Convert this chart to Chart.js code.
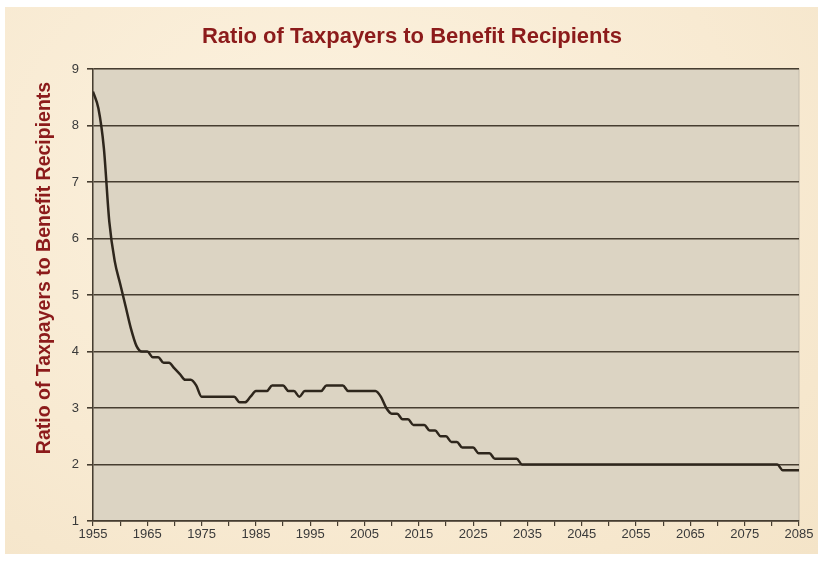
<!DOCTYPE html>
<html>
<head>
<meta charset="utf-8">
<title>Ratio of Taxpayers to Benefit Recipients</title>
<script src="https://cdn.jsdelivr.net/npm/chart.js@4.4.1/dist/chart.umd.min.js"></script>
<style>
    html, body { margin: 0; padding: 0; background: #ffffff; }
    .paper {
        position: absolute; left: 5px; top: 7px; width: 813px; height: 547px;
        background: radial-gradient(ellipse at 40% 30%, #fcf2df 0%, #f8ead2 60%, #f4e4c8 100%);
    }
    #myChart { position: absolute; left: 0; top: 0; }
</style>
</head>
<body>
<div class="paper"></div>
<canvas id="myChart" width="824" height="563"></canvas>
<script>
// yearly ratio, 1955 - 2085
const years = [
    1955, 1956, 1957, 1958, 1959, 1960, 1961, 1962, 1963, 1964,
    1965, 1966, 1967, 1968, 1969, 1970, 1971, 1972, 1973, 1974,
    1975, 1976, 1977, 1978, 1979, 1980, 1981, 1982, 1983, 1984,
    1985, 1986, 1987, 1988, 1989, 1990, 1991, 1992, 1993, 1994,
    1995, 1996, 1997, 1998, 1999, 2000, 2001, 2002, 2003, 2004,
    2005, 2006, 2007, 2008, 2009, 2010, 2011, 2012, 2013, 2014,
    2015, 2016, 2017, 2018, 2019, 2020, 2021, 2022, 2023, 2024,
    2025, 2026, 2027, 2028, 2029, 2030, 2031, 2032, 2033, 2034,
    2035, 2036, 2037, 2038, 2039, 2040, 2041, 2042, 2043, 2044,
    2045, 2046, 2047, 2048, 2049, 2050, 2051, 2052, 2053, 2054,
    2055, 2056, 2057, 2058, 2059, 2060, 2061, 2062, 2063, 2064,
    2065, 2066, 2067, 2068, 2069, 2070, 2071, 2072, 2073, 2074,
    2075, 2076, 2077, 2078, 2079, 2080, 2081, 2082, 2083, 2084,
    2085
]

const ratio = [
    8.6, 8.3, 7.6, 6.3, 5.6, 5.2, 4.8, 4.4, 4.1, 4.0,
    4.0, 3.9, 3.9, 3.8, 3.8, 3.7, 3.6, 3.5, 3.5, 3.4,
    3.2, 3.2, 3.2, 3.2, 3.2, 3.2, 3.2, 3.1, 3.1, 3.2,
    3.3, 3.3, 3.3, 3.4, 3.4, 3.4, 3.3, 3.3, 3.2, 3.3,
    3.3, 3.3, 3.3, 3.4, 3.4, 3.4, 3.4, 3.3, 3.3, 3.3,
    3.3, 3.3, 3.3, 3.2, 3.0, 2.9, 2.9, 2.8, 2.8, 2.7,
    2.7, 2.7, 2.6, 2.6, 2.5, 2.5, 2.4, 2.4, 2.3, 2.3,
    2.3, 2.2, 2.2, 2.2, 2.1, 2.1, 2.1, 2.1, 2.1, 2.0,
    2.0, 2.0, 2.0, 2.0, 2.0, 2.0, 2.0, 2.0, 2.0, 2.0,
    2.0, 2.0, 2.0, 2.0, 2.0, 2.0, 2.0, 2.0, 2.0, 2.0,
    2.0, 2.0, 2.0, 2.0, 2.0, 2.0, 2.0, 2.0, 2.0, 2.0,
    2.0, 2.0, 2.0, 2.0, 2.0, 2.0, 2.0, 2.0, 2.0, 2.0,
    2.0, 2.0, 2.0, 2.0, 2.0, 2.0, 2.0, 1.9, 1.9, 1.9,
    1.9
]

// labelled years on the bottom axis (minor ticks every 5 years)
const xTickLabels = [1955, 1965, 1975, 1985, 1995, 2005, 2015, 2025, 2035, 2045, 2055, 2065, 2075, 2085]
const yTicks = [1, 2, 3, 4, 5, 6, 7, 8, 9]

const titleText = 'Ratio of Taxpayers to Benefit Recipients'
const darkRed = '#8c1b1b'
const gridColor = '#463d30'
const fontFamily = "'Liberation Sans', Arial, sans-serif"

Chart.defaults.font.family = fontFamily

// grey-beige fill behind the plot
const plotBackground = {
    id: 'plotBackground',
    beforeDraw(chart) {
        const {ctx, chartArea} = chart
        ctx.save()
        ctx.fillStyle = '#dcd4c3'
        ctx.fillRect(chartArea.left, chartArea.top, chartArea.width, chartArea.height)
        ctx.strokeStyle = '#c4bcac'
        ctx.lineWidth = 1
        ctx.strokeRect(chartArea.left, chartArea.top, chartArea.width, chartArea.height)
        ctx.restore()
    }
}

// chart title and the rotated axis title, placed by hand
const titles = {
    id: 'titles',
    afterDraw(chart) {
        const ctx = chart.ctx
        ctx.save()
        ctx.fillStyle = darkRed
        ctx.textAlign = 'center'
        ctx.textBaseline = 'middle'
        ctx.font = 'bold 22px ' + fontFamily
        ctx.fillText(titleText, 412, 37)

        ctx.translate(45, 268)
        ctx.rotate(-Math.PI / 2)
        ctx.font = 'bold 19.5px ' + fontFamily
        ctx.fillText(titleText, 0, 0)
        ctx.restore()
    }
}

const ctx = document.getElementById('myChart').getContext('2d')
const myChart = new Chart(ctx, {
    type: 'line',
    data: {
        datasets: [{
            label: titleText,
            data: years.map((y, i) => ({x: y, y: ratio[i]})),
            borderColor: '#2e261c',
            borderWidth: 2.5,
            pointRadius: 0,
            cubicInterpolationMode: 'monotone',
            fill: false
        }]
    },
    options: {
        responsive: false,
        animation: false,
        layout: {
            padding: {left: 0, right: 25, top: 69, bottom: 0}
        },
        plugins: {
            legend: {display: false},
            tooltip: {enabled: false},
            title: {display: false}
        },
        scales: {
            x: {
                type: 'linear',
                min: years[0],
                max: years[years.length - 1],
                afterFit: scale => { scale.height = 42 },
                ticks: {
                    stepSize: 5,
                    autoSkip: false,
                    maxRotation: 0,
                    padding: 1,
                    color: '#3a3a3a',
                    font: {size: 13},
                    callback: v => xTickLabels.includes(v) ? String(v) : ''
                },
                grid: {
                    drawOnChartArea: false,
                    drawTicks: true,
                    tickLength: 5,
                    color: gridColor,
                    lineWidth: 1.2
                },
                border: {display: true, color: gridColor, width: 1.5}
            },
            y: {
                min: yTicks[0],
                max: yTicks[yTicks.length - 1],
                afterFit: scale => { scale.width = 93 },
                ticks: {
                    stepSize: 1,
                    padding: 8,
                    color: '#3a3a3a',
                    font: {size: 13},
                    callback: v => yTicks.includes(v) ? String(v) : ''
                },
                grid: {
                    color: gridColor,
                    lineWidth: 1.6,
                    tickLength: 6
                },
                border: {display: true, color: gridColor, width: 1.5}
            }
        }
    },
    plugins: [plotBackground, titles]
})
</script>
</body>
</html>
